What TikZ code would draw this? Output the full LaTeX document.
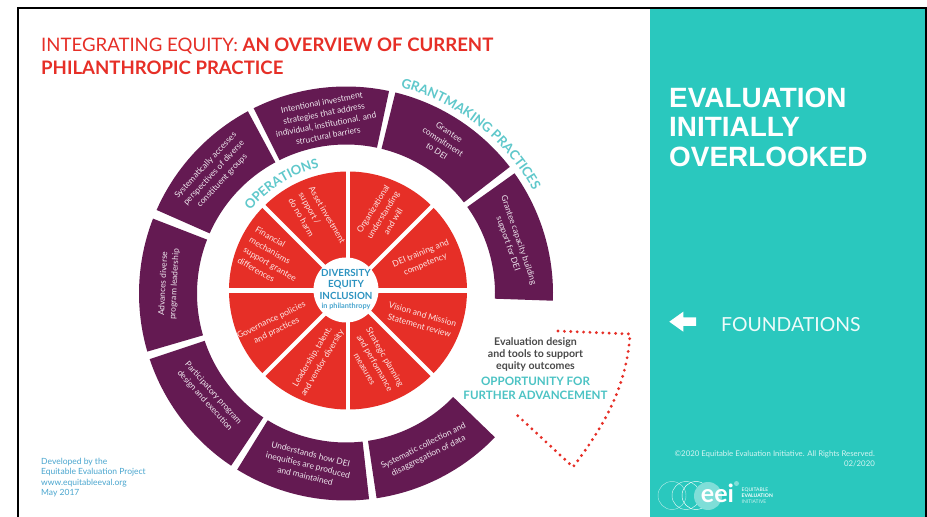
\documentclass[tikz,border=0pt]{standalone}
\usepackage{fontspec}
\setmainfont{Lato}
\newfontfamily\arialf{Liberation Sans}
\usetikzlibrary{calc,decorations.text}
\definecolor{plum}{HTML}{641A52}
\definecolor{eqred}{HTML}{E62F27}
\definecolor{panel}{HTML}{2AC8BE}
\definecolor{aqua}{HTML}{5FC8CB}
\definecolor{oppo}{HTML}{4CC3C4}
\definecolor{eqblue}{HTML}{2C93C0}
\definecolor{lblue}{HTML}{4AA6CF}
\definecolor{dgrey}{HTML}{4A4A4A}
\tikzset{
  outertext/.style={text=white!90!plum,font=\fontsize{8.4}{11.3}\selectfont,align=center,inner sep=0pt},
  innertext/.style={text=white!88!eqred,font=\fontsize{8.5}{11.8}\selectfont,align=center,inner sep=0pt},
  leftinner/.style={innertext,align=left},
  corelabel/.style={text=eqblue,font=\fontsize{9.8}{10}\selectfont\bfseries,inner sep=0pt},
  credit/.style={text=lblue,font=\fontsize{8.5}{10.3}\selectfont,align=left,anchor=north west,inner sep=0pt},
  titleline/.style={text=eqred,font=\fontsize{18.58}{20}\selectfont,anchor=base west,inner sep=0pt},
  bigline/.style={text=white,font=\arialf\fontsize{27.9}{30}\selectfont\bfseries,anchor=base west,inner sep=0pt},
  logotext/.style={text=white,font=\fontsize{5}{6}\selectfont,anchor=west,inner sep=0pt},
  ring/.style={white,line width=.45pt},
}
\begin{document}
\begin{tikzpicture}[x=1pt,y=1pt]
\useasboundingbox (0,0) rectangle (927,517);
% page frame
\fill[white] (0,0) rectangle (927,517);
\fill[panel] (650,0) rectangle (925,508);
\fill[black] (16.5,0) rectangle (18.5,510);
\fill[black] (16.5,508) rectangle (927,510);
\fill[black] (925,0) rectangle (927,510);
% title
\node[titleline] (title1) at (41,517-52) {INTEGRATING EQUITY: \textbf{AN OVERVIEW OF CURRENT}};
\node[titleline] (title2) at (41,517-75) {\textbf{PHILANTHROPIC PRACTICE}};
% outer ring
\coordinate (pc) at (346,223.5);
\foreach \a/\b in {-2/35.5,37.7/76.2,78/116.5,118.3/156.2,158.8/196.3,198.5/236.3,238.3/276.4,278.5/316}{
  \fill[plum] ($(pc)+(\a:207)$) arc[start angle=\a,end angle=\b,radius=207]
     -- ($(pc)+(\b:149)$) arc[start angle=\b,end angle=\a,radius=149] -- cycle;
}
% inner disc
\coordinate (rc) at (348,226.5);
\fill[eqred] (rc) circle[radius=119];
\foreach \a in {0,45,...,315}{
  \draw[white,line width=4.2pt] (rc) -- ++(\a:125);
}
\fill[white] (346,227) circle[radius=32.5];
% outer labels
\node[outertext,rotate=11] (s1) at (325,517-119) {Intentional investment\\strategies that address\\individual, institutional. and\\structural barriers};
\node[outertext,rotate=-33] (s2) at (443,517-141.7) {Grantee\\commitment\\to DEI};
\node[outertext,rotate=-71] (s3) at (513.3,517-242) {Grantee capacity building\\support for DEI};
\node[outertext,rotate=47] (s4) at (214,517-173) {Systematically accesses\\perspectives of diverse\\constituent groups};
\node[outertext,rotate=87] (s5) at (169,517-284) {Advances diverse\\program leadership};
\node[outertext,rotate=-48] (s6) at (209,517-397) {Participatory program\\design and execution};
\node[outertext,rotate=-14] (s7) at (308,517-465) {Understands how DEI\\inequities are produced\\and maintained};
\node[outertext,rotate=26.6] (s8) at (426,517-451) {Systematic collection and\\disaggregation of data};
% inner labels
\node[leftinner,rotate=-60] (r1) at (317,517-221) {Asset investment\\support /\\do no harm};
\node[innertext,rotate=58] (r2) at (383,517-215) {Organizational\\understanding\\and will};
\node[innertext,rotate=22.6] (r3) at (423,517-259) {DEI training and\\competency};
\node[innertext,rotate=-16] (r4) at (421,517-320) {Vision and Mission\\Statement review};
\node[innertext,rotate=-60] (r5) at (375,517-363) {Strategic planning\\and performance\\measures};
\node[innertext,rotate=59] (r6) at (317.5,517-360) {Leadership, talent,\\and vendor diversity};
\node[innertext,rotate=26] (r7) at (274,517-325.6) {Governance policies\\and practices};
\node[leftinner,rotate=-30] (r8) at (273,517-259) {Financial\\mechanisms\\support grantee\\differences};
% centre
\node[corelabel] (c1) at (346,517-273) {DIVERSITY};
\node[corelabel] (c2) at (346,517-284.5) {EQUITY};
\node[corelabel] (c3) at (346,517-296) {INCLUSION};
\node[text=lblue,font=\fontsize{7.3}{8}\selectfont\bfseries,inner sep=0pt] (c4) at (346,517-306) {in philanthropy};
% arc headings
\path[decorate,decoration={text along path,text align=center,
   text={|\fontsize{13}{13}\selectfont\bfseries\color{aqua}|OPERATIONS}}]
   ($(rc)+(146:126)$) arc[start angle=146,end angle=98,radius=126];
\path[decorate,decoration={text along path,text align=center,
   text={|\fontsize{13.2}{13.2}\selectfont\bfseries\color{aqua}|GRANTMAKING PRACTICES}}]
   ($(pc)+(80:213.5)$) arc[start angle=80,end angle=24,radius=213.5];
% opportunity
\node[text=dgrey,font=\fontsize{10.6}{11.7}\selectfont\bfseries,align=center,inner sep=0pt] (ev) at (535.5,517-354.5) {Evaluation design\\and tools to support\\equity outcomes};
\node[text=oppo,font=\fontsize{11.6}{14}\selectfont\bfseries,align=center,inner sep=0pt] (op) at (535.5,517-388.5) {OPPORTUNITY FOR\\FURTHER ADVANCEMENT};
\coordinate (d1) at (558,517-331);
\coordinate (d2) at (630,517-334);
\coordinate (d3) at (573,517-467);
\coordinate (d4) at (517,517-415);
\draw[eqred,line width=3.2pt,line cap=round,dash pattern=on 0pt off 6.4pt]
  (d1) -- (d2) .. controls (627,517-385) and (605,517-425) .. (d3) -- (d4);
% credit
\node[credit] (cr) at (41,517-456.5-1.5) {Developed by the\\Equitable Evaluation Project\\www.equitableeval.org\\May 2017};
% panel
\node[bigline] (b1) at (669,517-107.5) {EVALUATION};
\node[bigline] (b2) at (669,517-137) {INITIALLY};
\node[bigline] (b3) at (669,517-166.5) {OVERLOOKED};
\fill[white] (669.3,517-321.7) -- (683.3,517-311.7) -- (683.3,517-317.3) -- (696,517-317.3)
   -- (696,517-326) -- (683.3,517-326) -- (683.3,517-331.7) -- cycle;
\node[text=white!92!panel,font=\fontsize{19.4}{20}\selectfont,anchor=base west,inner sep=0pt] (fd) at (721,517-332) {FOUNDATIONS};
\node[text=white!80!panel,font=\fontsize{7.8}{9.2}\selectfont,align=right,anchor=north east,inner sep=0pt] (cp) at (875,517-451) {©2020 Equitable Evaluation Initiative. All Rights Reserved.\\02/2020};
% logo
\draw[ring,opacity=.6] (672,517-495.5) circle[radius=14];
\draw[ring,opacity=.8] (686,517-495.5) circle[radius=14];
\draw[ring] (696,517-495.5) circle[radius=14];
\fill[white!40!panel] (708,517-496) circle[radius=14];
\fill[white!40!panel] (736.5,517-483.5) circle[radius=2.5];
\node[text=white,font=\fontsize{25}{25}\selectfont\bfseries,anchor=base,inner sep=0pt] (ee) at (717.5,517-503) {eei};
\node[logotext] (l1) at (741.5,517-490) {EQUITABLE};
\node[logotext] (l2) at (741.5,517-496) {\textbf{EVALUATION}};
\node[logotext,opacity=.75] (l3) at (741.5,517-502) {INITIATIVE};
\end{tikzpicture}
\end{document}
